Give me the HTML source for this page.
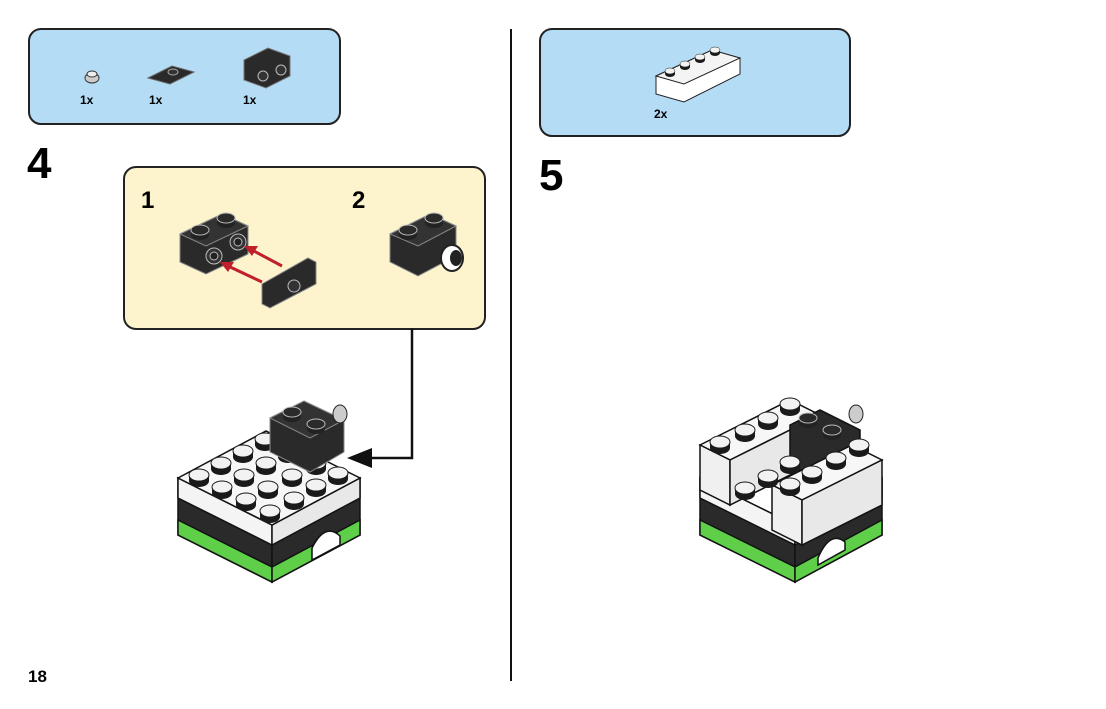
<!DOCTYPE html>
<html><head><style>
html,body{margin:0;padding:0;background:#fff;}
svg{display:block;font-family:"Liberation Sans",Arial,sans-serif;}
</style></head><body>
<svg width="1106" height="709" viewBox="0 0 1106 709" xmlns="http://www.w3.org/2000/svg">
<defs>
<g id="stud"><ellipse cx="0" cy="4" rx="10" ry="6" fill="#1a1a1a"/><rect x="-10" y="-2" width="20" height="6" fill="#1a1a1a"/><ellipse cx="0" cy="-2" rx="10" ry="6" fill="#f2f2f2" stroke="#1a1a1a" stroke-width="1"/></g>
<g id="dstud"><ellipse cx="0" cy="3" rx="9" ry="5" fill="#222"/><rect x="-9" y="-2" width="18" height="5" fill="#222"/><ellipse cx="0" cy="-2" rx="9" ry="5" fill="#2a2a2a" stroke="#bbb" stroke-width="1"/></g>
</defs>

<!-- divider -->
<line x1="511" y1="29" x2="511" y2="681" stroke="#111" stroke-width="2"/>

<!-- parts callout step 4 -->
<rect x="29" y="29" width="311" height="95" rx="12" fill="#b5dcf5" stroke="#222" stroke-width="2"/>
<ellipse cx="92" cy="78" rx="7" ry="5" fill="#ccc" stroke="#333"/><ellipse cx="92" cy="74" rx="5" ry="3" fill="#eee" stroke="#333"/>
<polygon points="148,78 172,66 194,72 170,84" fill="#2a2a2a" stroke="#666"/><ellipse cx="173" cy="72" rx="5" ry="3" fill="#333" stroke="#aaa"/>
<polygon points="244,60 268,48 290,56 290,76 266,88 244,80" fill="#2a2a2a" stroke="#777"/>
<circle cx="263" cy="76" r="5" fill="#333" stroke="#bbb"/><circle cx="281" cy="70" r="5" fill="#333" stroke="#bbb"/>
<text x="80" y="104" font-size="12" font-weight="bold">1x</text>
<text x="149" y="104" font-size="12" font-weight="bold">1x</text>
<text x="243" y="104" font-size="12" font-weight="bold">1x</text>

<!-- parts callout step 5 -->
<rect x="540" y="29" width="310" height="107" rx="12" fill="#b5dcf5" stroke="#222" stroke-width="2"/>
<polygon points="656,76 712,50 740,58 740,74 684,102 656,94" fill="#fff" stroke="#222"/>
<polygon points="656,76 712,50 740,58 684,84" fill="#f4f4f4" stroke="#222"/>
<g transform="translate(670,72) scale(0.5)"><use href="#stud"/></g>
<g transform="translate(685,65) scale(0.5)"><use href="#stud"/></g>
<g transform="translate(700,58) scale(0.5)"><use href="#stud"/></g>
<g transform="translate(715,51) scale(0.5)"><use href="#stud"/></g>
<text x="654" y="118" font-size="12" font-weight="bold">2x</text>

<!-- step numbers -->
<text x="27" y="178" font-size="44" font-weight="bold">4</text>
<text x="539" y="190" font-size="44" font-weight="bold">5</text>
<text x="28" y="682" font-size="17" font-weight="bold">18</text>

<!-- sub-assembly panel -->
<rect x="124" y="167" width="361" height="162" rx="12" fill="#fdf3cc" stroke="#222" stroke-width="2"/>
<text x="141" y="208" font-size="24" font-weight="bold">1</text>
<text x="352" y="208" font-size="24" font-weight="bold">2</text>
<!-- sub 1 brick -->
<polygon points="180,234 222,214 248,226 248,254 206,274 180,262" fill="#2a2a2a" stroke="#888"/>
<polygon points="180,234 222,214 248,226 206,246" fill="#333" stroke="#888"/>
<g transform="translate(200,232)"><use href="#dstud"/></g>
<g transform="translate(226,220)"><use href="#dstud"/></g>
<circle cx="214" cy="256" r="8" fill="#333" stroke="#bbb"/><circle cx="214" cy="256" r="4" fill="#222" stroke="#bbb"/>
<circle cx="238" cy="242" r="8" fill="#333" stroke="#bbb"/><circle cx="238" cy="242" r="4" fill="#222" stroke="#bbb"/>
<g stroke="#c0202a" stroke-width="3" fill="#c0202a">
<line x1="282" y1="266" x2="252" y2="250"/><polygon points="244,246 258,246 252,256" stroke="none"/>
<line x1="262" y1="282" x2="228" y2="266"/><polygon points="220,262 234,262 228,272" stroke="none"/>
</g>
<polygon points="262,284 308,258 316,262 316,284 270,308 262,304" fill="#2a2a2a" stroke="#888"/>
<circle cx="294" cy="286" r="6" fill="#333" stroke="#bbb"/>
<!-- sub 2 brick -->
<polygon points="390,234 430,214 456,226 456,256 418,276 390,262" fill="#2a2a2a" stroke="#888"/>
<polygon points="390,234 430,214 456,226 418,246" fill="#333" stroke="#888"/>
<g transform="translate(408,232)"><use href="#dstud"/></g>
<g transform="translate(434,220)"><use href="#dstud"/></g>
<ellipse cx="452" cy="258" rx="11" ry="13" fill="#fff" stroke="#222" stroke-width="2"/>
<ellipse cx="456" cy="258" rx="6" ry="8" fill="#222"/>

<!-- connector -->
<polyline points="412,329 412,458 370,458" fill="none" stroke="#111" stroke-width="2.5"/>
<polygon points="347,458 372,448 372,468" fill="#111"/>

<!-- step 4 model -->
<g stroke="#111" stroke-width="1.5">
<polygon points="178,478 272,525 272,582 178,535" fill="#2a2a2a"/>
<polygon points="272,525 360,478 360,535 272,582" fill="#2a2a2a"/>
<polygon points="178,520 272,567 272,582 178,535" fill="#5fcf4a"/>
<polygon points="272,567 360,520 360,535 272,582" fill="#5fcf4a"/>
<polygon points="178,478 272,525 272,545 178,498" fill="#f4f4f4"/>
<polygon points="272,525 360,478 360,498 272,545" fill="#e8e8e8"/>
<polygon points="178,478 266,431 360,478 272,525" fill="#f7f7f7"/>
<path d="M312,548 Q325,522 340,536 L340,545 L312,560 Z" fill="#fff"/>
</g>
<g>
<use href="#stud" x="199" y="477"/><use href="#stud" x="221" y="465"/><use href="#stud" x="243" y="453"/><use href="#stud" x="265" y="441"/>
<use href="#stud" x="222" y="489"/><use href="#stud" x="244" y="477"/><use href="#stud" x="266" y="465"/><use href="#stud" x="288" y="453"/>
<use href="#stud" x="246" y="501"/><use href="#stud" x="268" y="489"/><use href="#stud" x="292" y="477"/><use href="#stud" x="316" y="465"/>
<use href="#stud" x="270" y="513"/><use href="#stud" x="294" y="500"/><use href="#stud" x="316" y="487"/><use href="#stud" x="338" y="475"/>
</g>
<!-- dark brick on top -->
<g stroke="#888" stroke-width="1">
<polygon points="270,418 304,401 344,420 344,452 310,472 270,452" fill="#2a2a2a"/>
<polygon points="270,418 304,401 344,420 310,438" fill="#333"/>
</g>
<g transform="translate(292,414)"><use href="#dstud"/></g>
<g transform="translate(316,426)"><use href="#dstud"/></g>
<ellipse cx="340" cy="414" rx="7" ry="9" fill="#ccc" stroke="#222"/>

<!-- step 5 model -->
<g stroke="#111" stroke-width="1.5">
<polygon points="700,478 795,525 795,582 700,535" fill="#2a2a2a"/>
<polygon points="795,525 882,478 882,535 795,582" fill="#2a2a2a"/>
<polygon points="700,520 795,567 795,582 700,535" fill="#5fcf4a"/>
<polygon points="795,567 882,520 882,535 795,582" fill="#5fcf4a"/>
<polygon points="700,478 795,525 795,545 700,498" fill="#f4f4f4"/>
<polygon points="795,525 882,478 882,498 795,545" fill="#e8e8e8"/>
<path d="M818,558 Q830,530 845,542 L845,550 L818,565 Z" fill="#fff"/>
<!-- back white brick row -->
<polygon points="700,445 790,400 820,415 730,460" fill="#f7f7f7"/>
<polygon points="700,445 730,460 730,505 700,490" fill="#f0f0f0"/>
<polygon points="730,460 820,415 820,460 730,505" fill="#e8e8e8"/>
<!-- dark brick area -->
<polygon points="790,425 820,410 860,430 860,460 820,480 790,465" fill="#2a2a2a"/>
<!-- right white brick -->
<polygon points="772,485 852,445 882,460 802,500" fill="#f7f7f7"/>
<polygon points="772,485 802,500 802,545 772,530" fill="#f0f0f0"/>
<polygon points="802,500 882,460 882,505 802,545" fill="#e8e8e8"/>
</g>
<use href="#stud" x="720" y="444"/><use href="#stud" x="745" y="432"/><use href="#stud" x="768" y="420"/><use href="#stud" x="790" y="406"/>
<use href="#stud" x="745" y="490"/><use href="#stud" x="768" y="478"/><use href="#stud" x="790" y="464"/>
<use href="#stud" x="790" y="486"/><use href="#stud" x="812" y="474"/><use href="#stud" x="836" y="460"/><use href="#stud" x="859" y="447"/>
<g transform="translate(808,420)"><use href="#dstud"/></g>
<g transform="translate(832,432)"><use href="#dstud"/></g>
<ellipse cx="856" cy="414" rx="7" ry="9" fill="#ccc" stroke="#222"/>
</svg>
</body></html>
